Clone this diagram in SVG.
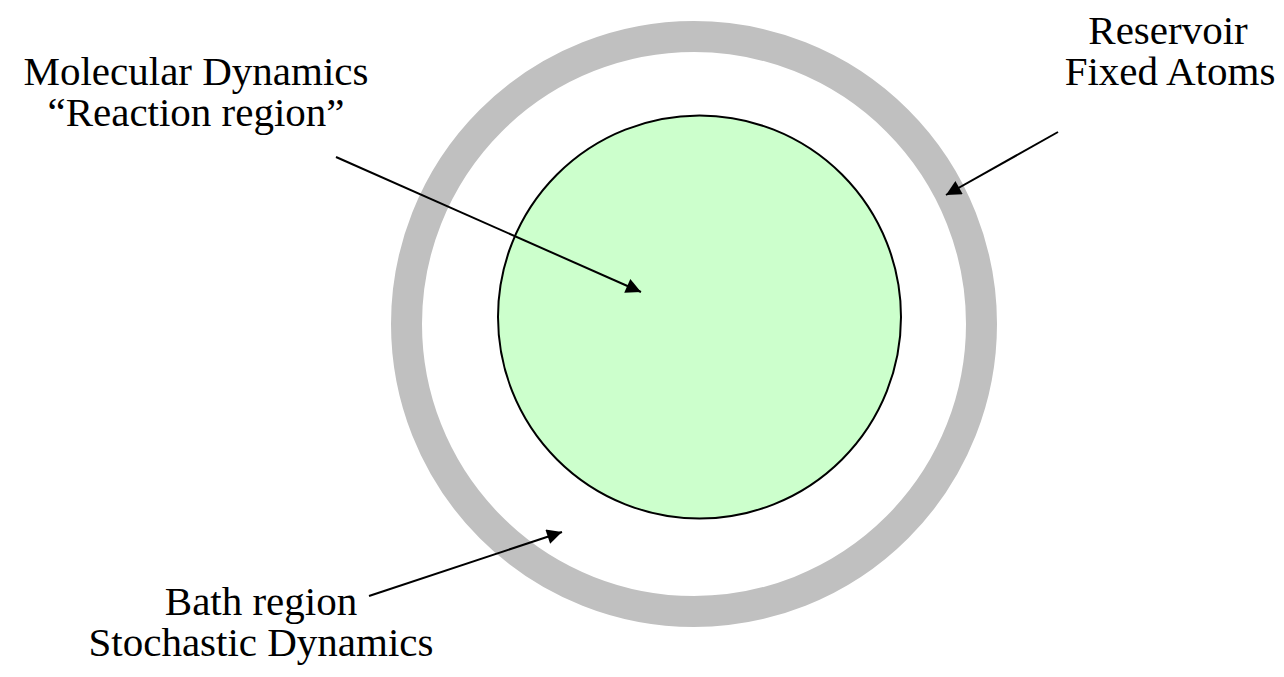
<svg xmlns="http://www.w3.org/2000/svg" width="1284" height="677" viewBox="0 0 1284 677">
<style>
text{font-family:"Liberation Serif","Times New Roman",serif;font-size:41px;fill:#000;text-anchor:middle}
.conn line{stroke:#000;stroke-width:2;marker-end:url(#ah)}
</style>
<defs>
<marker id="ah" viewBox="0 0 10 10" refX="10" refY="5" markerWidth="9" markerHeight="7.5" markerUnits="strokeWidth" orient="auto">
<path d="M0,0 L10,5 L0,10 z" fill="#000"/>
</marker>
</defs>
<rect width="1284" height="677" fill="#fff"/>
<g id="reservoir">
<circle cx="694" cy="324" r="287.5" fill="none" stroke="#c0c0c0" stroke-width="31"/>
</g>
<g id="reaction">
<circle cx="699.5" cy="317" r="201.5" fill="#ccffcc" stroke="#000" stroke-width="2"/>
</g>
<g id="label-md">
<text x="196" y="85">Molecular Dynamics</text>
<text x="196" y="126">“Reaction region”</text>
</g>
<g id="label-reservoir">
<text x="1168" y="44">Reservoir</text>
<text x="1170" y="85">Fixed Atoms</text>
</g>
<g id="label-bath">
<text x="261" y="615">Bath region</text>
<text x="261" y="656">Stochastic Dynamics</text>
</g>
<g class="conn" id="connectors">
<line x1="336" y1="157" x2="641" y2="292"/>
<line x1="1058" y1="132" x2="946" y2="195"/>
<line x1="369" y1="596" x2="562" y2="532"/>
</g>
</svg>
